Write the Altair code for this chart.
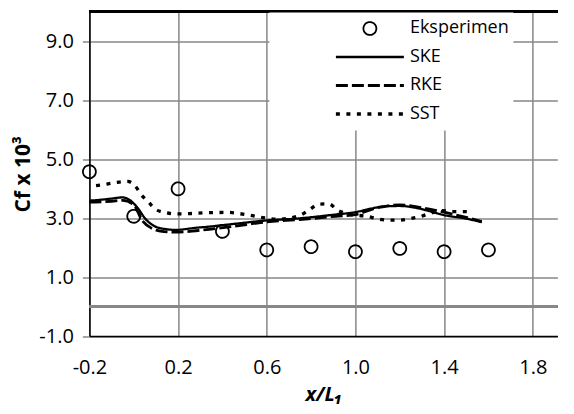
import altair as alt
import pandas as pd

# ---- data ----
exp_x = [-0.2, 0.0, 0.2, 0.4, 0.6, 0.8, 1.0, 1.2, 1.4, 1.6]
exp_y = [4.57, 3.06, 3.99, 2.55, 1.92, 2.03, 1.86, 1.97, 1.86, 1.92]

ske_x = [-0.2, -0.15, -0.1, -0.05, -0.02, 0.015, 0.053, 0.098, 0.14, 0.19, 0.28, 0.34,
         0.45, 0.6, 0.73, 0.91, 1.0, 1.07, 1.135, 1.2, 1.27, 1.33, 1.4, 1.5, 1.57]
ske_y = [3.59, 3.62, 3.66, 3.70, 3.62, 3.37, 2.97, 2.71, 2.63, 2.60, 2.67, 2.71,
         2.80, 2.92, 2.98, 3.12, 3.20, 3.32, 3.40, 3.41, 3.35, 3.24, 3.10, 2.98, 2.86]

rke_x = [-0.2, -0.15, -0.1, -0.05, 0.0, 0.038, 0.08, 0.12, 0.19, 0.28, 0.34, 0.45,
         0.6, 0.75, 0.91, 1.0, 1.1, 1.2, 1.3, 1.4, 1.5, 1.57]
rke_y = [3.54, 3.55, 3.57, 3.60, 3.45, 2.92, 2.66, 2.56, 2.52, 2.57, 2.62, 2.72,
         2.87, 2.95, 3.06, 3.12, 3.35, 3.45, 3.35, 3.20, 3.02, 2.88]

sst_x = [-0.17, -0.123, -0.075, -0.027, 0.007, 0.034, 0.067, 0.1, 0.146, 0.192, 0.25,
         0.33, 0.43, 0.477, 0.522, 0.571, 0.65, 0.752, 0.794, 0.834, 0.88, 0.917, 0.98,
         1.053, 1.102, 1.15, 1.2, 1.245, 1.293, 1.34, 1.388, 1.436, 1.481, 1.526]
sst_y = [4.10, 4.15, 4.21, 4.24, 4.08, 3.79, 3.54, 3.29, 3.18, 3.14, 3.15,
         3.18, 3.19, 3.15, 3.10, 3.03, 2.96, 3.10, 3.29, 3.47, 3.48, 3.28, 3.12,
         3.06, 2.97, 2.93, 2.93, 2.98, 3.05, 3.17, 3.25, 3.22, 3.22, 3.21]

series = ["Eksperimen", "SKE", "RKE", "SST"]
x_ticks = [-0.2, 0.2, 0.6, 1.0, 1.4, 1.8]
y_ticks = [-1, 1, 3, 5, 7, 9]

rows = []
for name, xs, ys in [("Eksperimen", exp_x, exp_y), ("SKE", ske_x, ske_y),
                     ("RKE", rke_x, rke_y), ("SST", sst_x, sst_y)]:
    for a, b in zip(xs, ys):
        rows.append({"series": name, "x": a, "y": b})
df = pd.DataFrame(rows)

FONT = "Open Sans"
GRID = "#878787"

circle_path = "M-0.19,0A0.19,0.19 0 1,1 0.19,0A0.19,0.19 0 1,1 -0.19,0Z"
line_path = "M-1,0L1,0"

x_scale = alt.Scale(domain=[-0.2, 1.911], nice=False, zero=False)
y_scale = alt.Scale(domain=[-1, 10], nice=False, zero=False)

minus_fix = "replace(format(datum.value, '.1f'), '\u2212', '-')"

x_enc = alt.X("x:Q", scale=x_scale, title="x/L\u2081",
              axis=alt.Axis(values=x_ticks, labelExpr=minus_fix, grid=True,
                            gridColor=GRID, gridWidth=1.5, ticks=False,
                            labelFlush=False, labelOverlap=False,
                            domainColor="black", domainWidth=1.5,
                            labelFont=FONT, labelFontSize=20, labelColor="black",
                            labelPadding=21, titleFont=FONT, titleFontSize=20,
                            titleFontWeight="bold", titleFontStyle="italic",
                            titleColor="black", titlePadding=7))
y_enc = alt.Y("y:Q", scale=y_scale, title="Cf x 10\u00b3",
              axis=alt.Axis(values=y_ticks, labelExpr=minus_fix, grid=True,
                            gridColor=GRID, gridWidth=1.5, tickColor=GRID,
                            tickWidth=1.5, tickSize=7, domainColor="black",
                            domainWidth=1.5, labelFont=FONT, labelFontSize=20,
                            labelColor="black", labelPadding=9, titleFont=FONT,
                            titleFontSize=21, titleFontWeight="bold",
                            titleColor="black", titlePadding=5))

legend = alt.Legend(title=None, orient="none", legendX=180, legendY=1,
                    fillColor="white", padding=4, symbolOffset=60.5, labelOffset=4,
                    clipHeight=24, rowPadding=4.5, symbolSize=4624,
                    symbolStrokeColor="black",
                    labelFont=FONT, labelFontSize=18, labelColor="black",
                    labelExpr="datum.label + '       '")

shape_enc = alt.Shape("series:N", scale=alt.Scale(domain=series,
                      range=[circle_path, line_path, line_path, line_path]), legend=legend)
dash_enc = alt.StrokeDash("series:N", scale=alt.Scale(domain=series,
                          range=[[1, 0], [1, 0], [12, 4], [4, 6.5]]), legend=legend)
width_enc = alt.StrokeWidth("series:N", scale=alt.Scale(domain=series,
                            range=[1.8, 3.3, 5, 4]), legend=legend)

base = alt.Chart(df)

zero_rule = alt.Chart(df).mark_rule(color=GRID, strokeWidth=1.5).encode(y=alt.datum(0))
top_rule = alt.Chart(df).mark_rule(color="black", strokeWidth=1.5).encode(y=alt.datum(10))

lines = base.transform_filter(alt.datum.series != "Eksperimen").mark_line(
    color="black", interpolate="monotone"
).encode(x=x_enc, y=y_enc, strokeDash=dash_enc, strokeWidth=width_enc,
         order="x:Q")

points = base.transform_filter(alt.datum.series == "Eksperimen").mark_point(
    filled=False, color="black", size=4624, opacity=1
).encode(x=x_enc, y=y_enc, shape=shape_enc, strokeDash=dash_enc,
         strokeWidth=width_enc)

chart = alt.layer(zero_rule, top_rule, lines, points).properties(
    width=468, height=324.6,
    padding={"left": 4.4, "top": 2.5, "right": 0, "bottom": 2.5},
    background="white",
).configure_view(stroke=None)

chart.save("out.html", embed_options={"renderer": "svg", "actions": False})
